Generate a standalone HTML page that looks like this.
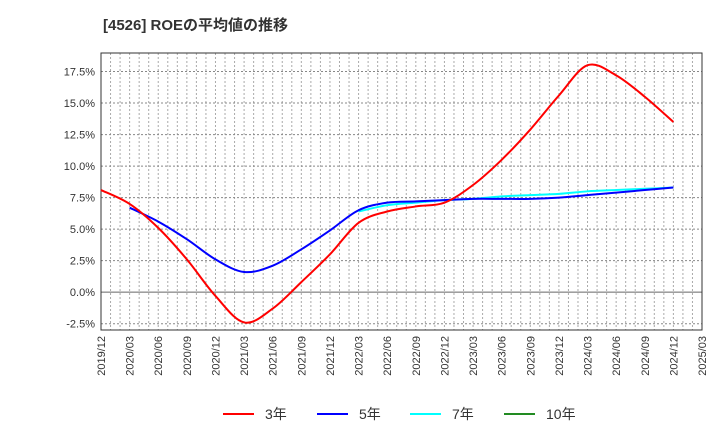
<!DOCTYPE html>
<html><head><meta charset="utf-8"><style>
body{margin:0;background:#fff;}
svg{display:block;font-family:"Liberation Sans","Noto Sans CJK JP",sans-serif;}
</style></head><body>
<svg id="c" width="720" height="440">
<text x="103" y="30" font-size="15" font-weight="bold" fill="#333">[4526]  ROEの平均値の推移</text>
</svg>
<script>
const xLabels=["2019/12","2020/03","2020/06","2020/09","2020/12","2021/03","2021/06","2021/09","2021/12","2022/03","2022/06","2022/09","2022/12","2023/03","2023/06","2023/09","2023/12","2024/03","2024/06","2024/09","2024/12","2025/03"];
const yTicks=[-2.5,0,2.5,5,7.5,10,12.5,15,17.5];
const roe3=[8.1,7.0,5.1,2.6,-0.3,-2.4,-1.3,0.8,3.0,5.5,6.4,6.8,7.1,8.5,10.5,12.9,15.6,18.0,17.2,15.5,13.5];
const roe5=[null,6.7,5.6,4.2,2.6,1.6,2.1,3.4,4.9,6.5,7.1,7.2,7.3,7.4,7.4,7.4,7.5,7.7,7.9,8.1,8.3];
const roe7=[null,null,null,null,null,null,null,null,null,6.4,6.9,7.1,7.3,7.4,7.6,7.7,7.8,8.0,8.1,8.2,8.3];
const roe10=[];
const L=101,R=702,T=53,B=330,yMin=-3,yMax=18.97;
const sx=i=>L+(R-L)*i/21;
const sy=v=>B-(v-yMin)/(yMax-yMin)*(B-T);
const svg=document.getElementById('c');const NS="http://www.w3.org/2000/svg";
function mk(t,a,p){const e=document.createElementNS(NS,t);for(const k in a)e.setAttribute(k,a[k]);(p||svg).appendChild(e);return e;}
const g=mk('g',{});


for(let m=1;m<63;m++){const x=L+(R-L)*m/63;mk('line',{x1:x,x2:x,y1:T,y2:B,stroke:'#aaa','stroke-dasharray':'2,2','stroke-width':1},g);}
yTicks.forEach(v=>{const y=sy(v);mk('line',{x1:L,x2:R,y1:y,y2:y,stroke:v===0?'#666':'#888','stroke-dasharray':v===0?'':'2,2','stroke-width':1},g);
const t=mk('text',{x:L-6,y:y+4,'text-anchor':'end','font-size':11,fill:'#333'});t.textContent=v.toFixed(1)+'%';

});
const fr=mk('rect',{x:L,y:T,width:R-L,height:B-T,fill:'none',stroke:'#333','stroke-width':1});


xLabels.forEach((s,i)=>{const x=sx(i);const t=mk('text',{x:x+4,y:B+6,'text-anchor':'end','font-size':11,fill:'#333',transform:`rotate(-90 ${x+4} ${B+6})`});t.textContent=s;

});
function line(arr,col,name){const pts=[];arr.forEach((v,i)=>{if(v!=null)pts.push([sx(i),sy(v)]);});if(!pts.length)return;
let d='M'+pts[0][0]+','+pts[0][1];
for(let k=0;k<pts.length-1;k++){const p0=pts[Math.max(0,k-1)],p1=pts[k],p2=pts[k+1],p3=pts[Math.min(pts.length-1,k+2)];
const c1=[p1[0]+(p2[0]-p0[0])/6,p1[1]+(p2[1]-p0[1])/6],c2=[p2[0]-(p3[0]-p1[0])/6,p2[1]-(p3[1]-p1[1])/6];
d+='C'+c1[0]+','+c1[1]+' '+c2[0]+','+c2[1]+' '+p2[0]+','+p2[1];}
const p=mk('path',{d:d,fill:'none',stroke:col,'stroke-width':2,'stroke-linejoin':'round'});

}
line(roe10,'#228b22','series-10y');line(roe7,'#00ffff','series-7y');line(roe5,'#0000ff','series-5y');line(roe3,'#ff0000','series-3y');
const leg=[["3年",'#ff0000',223],["5年",'#0000ff',317],["7年",'#00ffff',410],["10年",'#228b22',504]];
leg.forEach(l=>{const gg=mk('g',{});


mk('line',{x1:l[2],x2:l[2]+31,y1:414,y2:414,stroke:l[1],'stroke-width':2},gg);
const t=mk('text',{x:l[2]+42,y:419,'font-size':14,fill:'#333'},gg);t.textContent=l[0];});
</script>
</body></html>
